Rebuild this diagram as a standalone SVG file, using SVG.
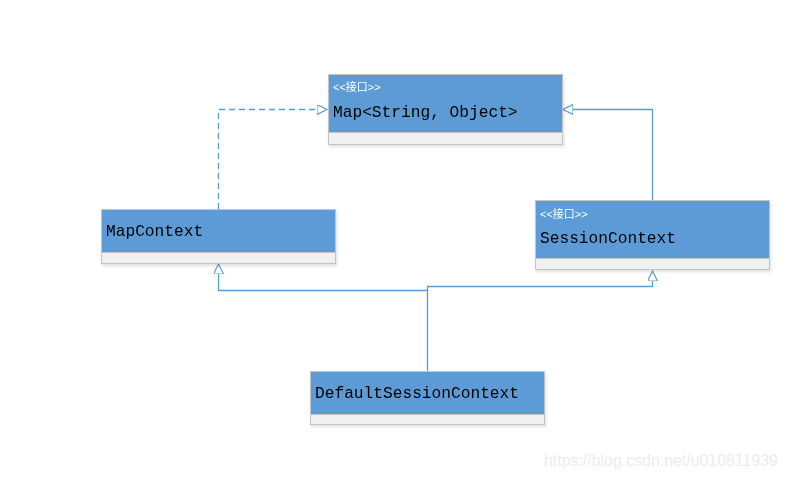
<svg xmlns="http://www.w3.org/2000/svg" width="788" height="479" viewBox="0 0 788 479">
<style>
.hd{fill:#5b9bd5;stroke:#c4c4c4;stroke-width:1}
.ft{fill:#f0f0f0;stroke:#c4c4c4;stroke-width:1}
.nm{font-family:"Liberation Mono","DejaVu Sans Mono",monospace;font-size:16.2px;fill:#000}
.st{font-family:"Liberation Sans","Noto Sans CJK SC",sans-serif;font-size:11px;fill:#fff}
.ln{fill:none;stroke:#5b9bd5;stroke-width:1.3}
.dash{stroke-dasharray:6,4}
.wm{font-family:"Liberation Sans",Arial,sans-serif;font-size:15.9px;fill:#ececec}
</style>
<defs>
<marker id="tri" markerWidth="12" markerHeight="12" refX="10" refY="5" orient="auto" markerUnits="userSpaceOnUse">
<path d="M0,0 L10,5 L0,10 Z" fill="#fff" stroke="#5b9bd5" stroke-width="1.2"/>
</marker>
<filter id="sh" x="-5%" y="-5%" width="110%" height="120%">
<feDropShadow dx="1" dy="2" stdDeviation="1.5" flood-color="#000" flood-opacity="0.12"/>
</filter>
</defs>
<rect width="788" height="479" fill="#fff"/>
<g id="connectors">
<path class="ln dash" d="M218.5,209 V109.5 H327" marker-end="url(#tri)"/>
<path class="ln" d="M652.5,200 V109.5 H563" marker-end="url(#tri)"/>
<path class="ln" d="M427.5,371 V290.5 H218.5 V264" marker-end="url(#tri)"/>
<path class="ln" d="M427.5,290.5 V286.5 H652.5 V271" marker-end="url(#tri)"/>
</g>
<g id="map" filter="url(#sh)">
<rect class="hd" x="328.5" y="74.5" width="234" height="58"/>
<rect class="ft" x="328.5" y="132.5" width="234" height="12"/>
<text class="st" x="333" y="91">&lt;&lt;接口&gt;&gt;</text>
<text class="nm" x="333" y="117">Map&lt;String, Object&gt;</text>
</g>
<g id="mapcontext" filter="url(#sh)">
<rect class="hd" x="101.5" y="209.5" width="234" height="43"/>
<rect class="ft" x="101.5" y="252.5" width="234" height="11"/>
<text class="nm" x="106" y="236">MapContext</text>
</g>
<g id="sessioncontext" filter="url(#sh)">
<rect class="hd" x="535.5" y="200.5" width="234" height="58"/>
<rect class="ft" x="535.5" y="258.5" width="234" height="11"/>
<text class="st" x="540" y="218">&lt;&lt;接口&gt;&gt;</text>
<text class="nm" x="540" y="243">SessionContext</text>
</g>
<g id="defaultsessioncontext" filter="url(#sh)">
<rect class="hd" x="310.5" y="371.5" width="234" height="43"/>
<rect class="ft" x="310.5" y="414.5" width="234" height="10"/>
<text class="nm" x="315" y="398">DefaultSessionContext</text>
</g>
<text class="wm" x="544" y="466">https://blog.csdn.net/u010811939</text>
</svg>
